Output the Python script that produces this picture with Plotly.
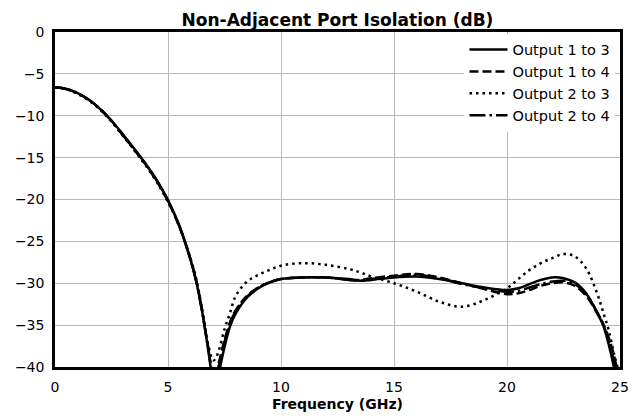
import plotly.graph_objects as go

freq = [0, 0.5, 1, 1.5, 2, 2.5, 3, 3.5, 4, 4.5, 5, 5.5, 6, 6.25, 6.5, 6.75, 7.0, 7.1,
        7.25, 7.5, 7.75, 8, 8.5, 9, 9.5, 10, 11, 12, 13, 13.5, 14, 15, 16, 17, 18, 19,
        20, 20.5, 21, 21.5, 22, 22.5, 23, 23.5, 24, 24.25, 24.5, 24.75, 25]

out_1_3 = [-6.6, -6.8, -7.3, -8.1, -9.2, -10.6, -12.2, -13.9, -15.7, -17.7, -20.1, -23.1,
           -27.2, -29.8, -33.2, -37.4, -42.0, -43.0, -40.8, -37.6, -35.1, -33.6, -31.7,
           -30.6, -29.9, -29.5, -29.3, -29.3, -29.5, -29.7, -29.6, -29.3, -29.2, -29.5,
           -30.0, -30.5, -30.8, -30.6, -30.1, -29.6, -29.3, -29.4, -29.9, -31.2, -33.6,
           -35.0, -37.3, -40.3, -45.0]

out_1_4 = [-6.6, -6.8, -7.3, -8.1, -9.2, -10.6, -12.3, -14.0, -15.8, -17.8, -20.2, -23.2,
           -27.2, -29.7, -33.1, -37.2, -41.0, -41.2, -39.5, -36.8, -34.6, -33.2, -31.5,
           -30.5, -29.9, -29.5, -29.3, -29.3, -29.6, -29.6, -29.4, -29.1, -28.9, -29.3,
           -30.0, -30.7, -31.3, -31.2, -30.8, -30.3, -30.0, -29.9, -30.3, -31.5, -33.6,
           -34.8, -36.5, -38.8, -42.0]

out_2_3 = [-6.6, -6.8, -7.4, -8.2, -9.3, -10.7, -12.4, -14.1, -15.9, -17.9, -20.3, -23.2,
           -27.1, -29.5, -33.0, -37.0, -39.2, -39.0, -38.0, -35.5, -33.5, -31.5, -29.8,
           -29.0, -28.4, -27.9, -27.6, -27.8, -28.3, -28.7, -29.2, -30.0, -31.0, -32.2,
           -32.8, -32.0, -30.6, -29.5, -28.4, -27.6, -27.0, -26.5, -26.8, -28.2, -31.3,
           -33.4, -35.6, -38.6, -41.0]

out_2_4 = [-6.6, -6.8, -7.3, -8.1, -9.2, -10.6, -12.3, -14.0, -15.7, -17.7, -20.1, -23.2,
           -27.2, -29.8, -33.2, -37.3, -40.6, -40.8, -39.8, -37.0, -34.8, -33.3, -31.6,
           -30.5, -29.9, -29.5, -29.3, -29.3, -29.6, -29.7, -29.5, -29.2, -29.0, -29.4,
           -30.1, -30.6, -31.0, -30.9, -30.5, -30.1, -29.8, -29.7, -30.1, -31.3, -33.5,
           -34.9, -36.8, -39.5, -43.0]

x_ticks = [0, 5, 10, 15, 20, 25]
y_ticks = [0, -5, -10, -15, -20, -25, -30, -35, -40]

series = [
    ("Output 1 to 3", out_1_3, "solid"),
    ("Output 1 to 4", out_1_4, "9px,4px"),
    ("Output 2 to 3", out_2_3, "2.5px,4px"),
    ("Output 2 to 4", out_2_4, "16px,4px,2.5px,4px"),
]

fig = go.Figure()
for name, vals, dash in series:
    fig.add_trace(go.Scatter(
        x=freq, y=vals, name=name, mode="lines",
        line=dict(color="black", width=2.5, dash=dash, shape="spline", smoothing=1.0),
    ))

# The page body has an 8px margin, so the figure is offset by 8px in the window.
font_family = "DejaVu Sans"
fig.update_layout(
    width=636, height=410,
    margin=dict(l=47, r=24, t=24, b=51),
    paper_bgcolor="white", plot_bgcolor="white",
    font=dict(family=font_family, size=14, color="black"),
    title=dict(text="<b>Non-Adjacent Port Isolation (dB)</b>", x=0.5, xanchor="center",
               xref="paper", y=1 - 12 / 410, yref="container", yanchor="middle",
               font=dict(family=font_family, size=17, color="black")),
    showlegend=True,
    legend=dict(x=0.992, y=0.995, xanchor="right", yanchor="top",
                bgcolor="white", borderwidth=0,
                font=dict(family=font_family, size=14.5, color="black"),
                tracegroupgap=0, itemwidth=38),
)
fig.update_xaxes(
    range=[0, 25], tickvals=x_ticks, automargin=False,
    showgrid=True, gridcolor="#b8b8b8", gridwidth=1,
    showline=True, linecolor="black", linewidth=2.5, mirror=True,
    ticks="", zeroline=False, tickfont=dict(size=14), ticklabelstandoff=5,
    title=dict(text="<b>Frequency (GHz)</b>", standoff=6,
               font=dict(family=font_family, size=14, color="black")),
)
fig.update_yaxes(
    range=[-40, 0], tickvals=y_ticks, automargin=False,
    showgrid=True, gridcolor="#b8b8b8", gridwidth=1,
    showline=True, linecolor="black", linewidth=2.5, mirror=True,
    ticks="", zeroline=False, tickfont=dict(size=14), ticklabelstandoff=5,
)

fig.write_html("out.html")
